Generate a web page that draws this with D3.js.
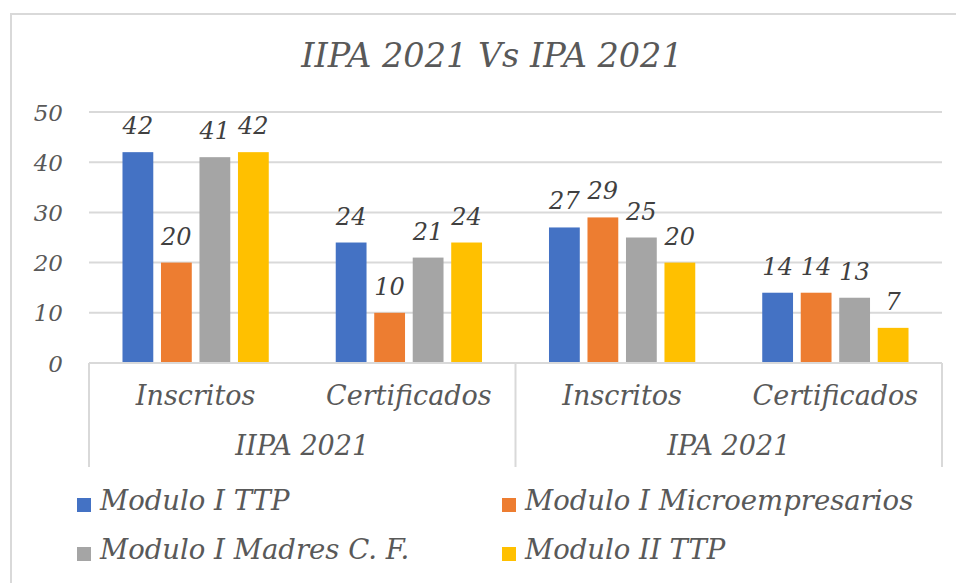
<!DOCTYPE html>
<html>
<head>
<meta charset="utf-8">
<script src="https://cdn.jsdelivr.net/npm/d3@7"></script>
<style>
    html, body { margin: 0; padding: 0; background: #fff; }
    svg text { font-family: 'DejaVu Serif', serif; font-style: italic; }
</style>
</head>
<body>
<svg id="chart"></svg>
<script>
const groups = ['IIPA 2021', 'IPA 2021'];
const subCategories = ['Inscritos', 'Certificados'];
const seriesNames = ['Modulo I TTP', 'Modulo I Microempresarios', 'Modulo I Madres C. F.', 'Modulo II TTP'];
const moduloITTP = [42, 24, 27, 14];
const moduloIMicro = [20, 10, 29, 14];
const moduloIMadres = [41, 21, 25, 13];
const moduloIITTP = [42, 24, 20, 7];
const yTicks = [0, 10, 20, 30, 40, 50];
const colors = ['#4472C4', '#ED7D31', '#A5A5A5', '#FFC000'];

const width = 956;
const height = 583;
const margin = {
    top: 112, right: 14, bottom: 220, left: 89
};
const plotRight = 942;

const svg = d3.select('#chart')
    .attr('width', width)
    .attr('height', height);

// chart area border
svg.append('rect')
    .attr('x', 11)
    .attr('y', 14)
    .attr('width', 980)
    .attr('height', 600)
    .attr('fill', '#fff')
    .attr('stroke', '#d9d9d9')
    .attr('stroke-width', 2);

svg.append('text')
    .attr('x', 492)
    .attr('y', 67)
    .attr('text-anchor', 'middle')
    .attr('fill', '#595959')
    .style('font-size', '33.5px')
    .text('IIPA 2021 Vs IPA 2021');

const allSeries = [moduloITTP, moduloIMicro, moduloIMadres, moduloIITTP];
const keys = [];
groups.forEach((g) => subCategories.forEach((c) => keys.push(g + '|' + c)));

const data = keys.map((k, i) => ({
    key: k,
    values: allSeries.map((s, j) => ({ name: seriesNames[j], value: s[i] }))
}));

const yScale = d3.scaleLinear()
    .domain([0, 50])
    .range([363, margin.top]);

const xScale = d3.scaleBand()
    .domain(keys)
    .range([margin.left, plotRight]);

const innerScale = d3.scaleBand()
    .domain(seriesNames)
    .range([0, xScale.bandwidth()])
    .paddingInner(0.2)
    .paddingOuter(0.87);

const groupScale = d3.scaleBand()
    .domain(groups)
    .range([margin.left, plotRight]);

// gridlines
svg.append('g')
    .selectAll('line')
    .data(yTicks.filter((t) => t > 0))
    .join('line')
    .attr('x1', margin.left)
    .attr('x2', plotRight)
    .attr('y1', (d) => yScale(d))
    .attr('y2', (d) => yScale(d))
    .attr('stroke', '#d9d9d9')
    .attr('stroke-width', 2);

// y axis labels
const yAxis = svg.append('g')
    .attr('transform', `translate(${margin.left - 26},0)`)
    .call(d3.axisLeft(yScale).tickValues(yTicks).tickSize(0).tickPadding(0));
yAxis.select('.domain').remove();
yAxis.selectAll('text')
    .attr('fill', '#595959')
    .style('font-size', '23px')
    .style('font-family', "'DejaVu Serif', serif")
    .attr('dy', '0.35em');

// bars
const cats = svg.append('g')
    .selectAll('g')
    .data(data)
    .join('g')
    .attr('transform', (d) => `translate(${xScale(d.key)},0)`);

cats.selectAll('rect')
    .data((d) => d.values)
    .join('rect')
    .attr('x', (d) => innerScale(d.name))
    .attr('width', innerScale.bandwidth())
    .attr('y', (d) => yScale(d.value))
    .attr('height', (d) => yScale(0) - yScale(d.value))
    .attr('fill', (d, i) => colors[i]);

cats.selectAll('.label')
    .data((d) => d.values)
    .join('text')
    .attr('class', 'label')
    .attr('x', (d) => innerScale(d.name) + innerScale.bandwidth() / 2)
    .attr('y', (d) => yScale(d.value) - 18)
    .attr('text-anchor', 'middle')
    .attr('fill', '#404040')
    .style('font-size', '24px')
    .text((d) => d.value);

// multi-level category axis
const axisG = svg.append('g');
axisG.append('line')
    .attr('x1', margin.left)
    .attr('x2', plotRight)
    .attr('y1', yScale(0))
    .attr('y2', yScale(0))
    .attr('stroke', '#d9d9d9')
    .attr('stroke-width', 2);

const dividers = groups.map((g) => groupScale(g)).concat([plotRight]);
axisG.selectAll('.divider')
    .data(dividers)
    .join('line')
    .attr('class', 'divider')
    .attr('x1', (d) => d)
    .attr('x2', (d) => d)
    .attr('y1', yScale(0))
    .attr('y2', 467)
    .attr('stroke', '#d9d9d9')
    .attr('stroke-width', 2);

axisG.selectAll('.cat')
    .data(keys)
    .join('text')
    .attr('class', 'cat')
    .attr('x', (d) => xScale(d) + xScale.bandwidth() / 2)
    .attr('y', 405)
    .attr('text-anchor', 'middle')
    .attr('fill', '#595959')
    .style('font-size', '27px')
    .text((d) => d.split('|')[1]);

axisG.selectAll('.grp')
    .data(groups)
    .join('text')
    .attr('class', 'grp')
    .attr('x', (d) => groupScale(d) + groupScale.bandwidth() / 2)
    .attr('y', 455)
    .attr('text-anchor', 'middle')
    .attr('fill', '#595959')
    .style('font-size', '27px')
    .text((d) => d);

// legend
const legend = svg.append('g')
    .selectAll('g')
    .data(seriesNames)
    .join('g')
    .attr('transform', (d, i) => `translate(${i % 2 === 0 ? 77 : 502},${i < 2 ? 510 : 559})`);

legend.append('rect')
    .attr('x', 0)
    .attr('y', -12)
    .attr('width', 14)
    .attr('height', 14)
    .attr('fill', (d, i) => colors[i]);

legend.append('text')
    .attr('x', 23)
    .attr('y', 0)
    .attr('fill', '#595959')
    .style('font-size', '27.5px')
    .text((d) => d);
</script>
</body>
</html>
